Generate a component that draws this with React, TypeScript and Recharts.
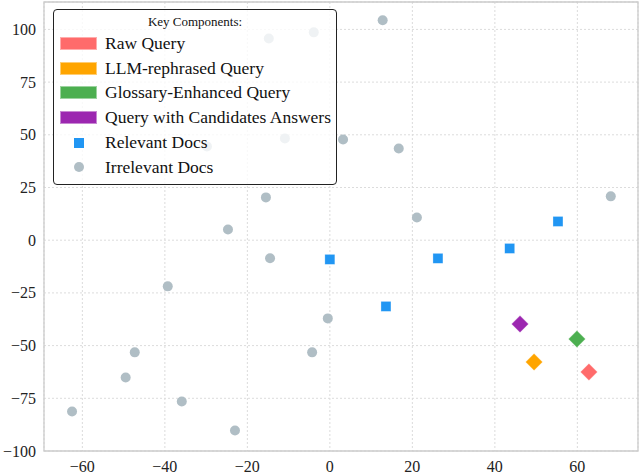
import React from "react"
import {
  ScatterChart, Scatter, XAxis, YAxis, CartesianGrid, ReferenceArea, Legend
} from "recharts"

// t-SNE style projection of queries and documents
const irrelevantX = [12.8, -14.8, -3.9, -10.9, 3.2, -29.8, -15.5, 16.7, 68.1, 21.1, -24.7, -14.5, -39.3, -0.5, -4.3, -47.3, -49.5, -35.9, -62.5, -23]
const irrelevantY = [104.3, 95.7, 98.6, 48.3, 47.8, 44.5, 20.3, 43.5, 20.8, 10.8, 5.1, -8.6, -21.9, -37.1, -53.2, -53.2, -65.1, -76.5, -81.3, -90.3]

const relevantX = [0, 26.2, 43.6, 55.3, 13.6]
const relevantY = [-9.1, -8.6, -3.9, 8.9, -31.4]

const queryNames = ["Raw Query", "LLM-rephrased Query", "Glossary-Enhanced Query", "Query with Candidates Answers"]
const queryX = [62.8, 49.5, 59.9, 46.1]
const queryY = [-62.5, -57.8, -46.9, -39.8]
const queryColors = ["#ff6b6b", "#ffa500", "#4caf50", "#9c27b0"]

const xTicks = [-60, -40, -20, 0, 20, 40, 60]
const yTicks = [-100, -75, -50, -25, 0, 25, 50, 75, 100]

const X_DOMAIN: [number, number] = [-69.3, 74.7]
const Y_DOMAIN: [number, number] = [-100, 113]

const FONT = '"Liberation Serif", "Times New Roman", serif'

const zip = (xs: number[], ys: number[]) => xs.map((x, i) => ({ x, y: ys[i] }))

const irrelevantData = zip(irrelevantX, irrelevantY)
const relevantData = zip(relevantX, relevantY)

const fmt = (v: number) => String(v).replace("-", "\u2212")

const XTick = (p: any) => (
  <text x={p.x} y={p.y} dy={21} textAnchor="middle" fontSize={16} fill="#222" fontFamily={FONT}>
    {fmt(p.payload.value)}
  </text>
)
const YTick = (p: any) => (
  <text x={p.x} y={p.y} dy={5.5} textAnchor="end" fontSize={16} fill="#222" fontFamily={FONT}>
    {fmt(p.payload.value)}
  </text>
)

const circleShape = (p: any) => <circle cx={p.cx} cy={p.cy} r={5} fill="#b0bec5" />
const squareShape = (p: any) => (
  <rect x={p.cx - 5} y={p.cy - 5} width={10} height={10} fill="#2196f3" stroke="#ffffff" strokeOpacity={0.5} strokeWidth={0.6} />
)
const diamondShape = (color: string) => (p: any) => {
  const r = 8.5
  const pts = `${p.cx},${p.cy - r} ${p.cx + r},${p.cy} ${p.cx},${p.cy + r} ${p.cx - r},${p.cy}`
  return <polygon points={pts} fill={color} stroke="#ffffff" strokeOpacity={0.5} strokeWidth={0.6} />
}

function KeyLegend() {
  const row: React.CSSProperties = { display: "flex", alignItems: "center", height: 24.8 }
  const label: React.CSSProperties = { fontSize: 17.5, color: "#111", whiteSpace: "nowrap" }
  return (
    <div style={{
      width: 284, height: 176, boxSizing: "border-box", border: "1.5px solid #222", borderRadius: 4,
      background: "rgba(255,255,255,0.8)", fontFamily: FONT, padding: "0 0 0 6px"
    }}>
      <div style={{ textAlign: "center", fontSize: 13, color: "#111", height: 21, lineHeight: "24px", marginLeft: -6 }}>
        Key Components:
      </div>
      {queryNames.map((name, i) => (
        <div key={name} style={row}>
          <div style={{ width: 37, height: 13, background: queryColors[i], boxSizing: "border-box", border: "1px solid rgba(255,255,255,0.45)", marginRight: 8 }} />
          <span style={label}>{name}</span>
        </div>
      ))}
      <div style={row}>
        <div style={{ width: 37, marginRight: 8, display: "flex", justifyContent: "center" }}>
          <div style={{ width: 10, height: 10, background: "#2196f3" }} />
        </div>
        <span style={label}>Relevant Docs</span>
      </div>
      <div style={row}>
        <div style={{ width: 37, marginRight: 8, display: "flex", justifyContent: "center" }}>
          <div style={{ width: 10, height: 10, borderRadius: 5, background: "#b0bec5" }} />
        </div>
        <span style={label}>Irrelevant Docs</span>
      </div>
    </div>
  )
}

export default function App() {
  return (
    <div style={{ position: "absolute", left: 0, top: 0, width: 640, height: 474, background: "#fff", fontFamily: FONT }}>
      <ScatterChart width={640} height={474} margin={{ top: 2, right: 2, bottom: 0, left: 0 }}>
        <CartesianGrid stroke="#dcdcdc" strokeDasharray="2 2" />
        <XAxis
          type="number" dataKey="x" domain={X_DOMAIN} ticks={xTicks} allowDataOverflow
          height={23} axisLine={false} tickLine={false} tickSize={0} tickMargin={0}
          tick={<XTick />}
        />
        <YAxis
          type="number" dataKey="y" domain={Y_DOMAIN} ticks={yTicks} allowDataOverflow
          width={44} axisLine={false} tickLine={false} tickSize={0} tickMargin={8}
          tick={<YTick />}
        />
        <ReferenceArea x1={X_DOMAIN[0]} x2={X_DOMAIN[1]} y1={Y_DOMAIN[0]} y2={Y_DOMAIN[1]} fill="none" stroke="#cccccc" strokeWidth={1.3} fillOpacity={0} />
        <Scatter name="Irrelevant Docs" data={irrelevantData} shape={circleShape} isAnimationActive={false} />
        <Scatter name="Relevant Docs" data={relevantData} shape={squareShape} isAnimationActive={false} />
        {queryNames.map((name, i) => (
          <Scatter key={name} name={name} data={[{ x: queryX[i], y: queryY[i] }]} shape={diamondShape(queryColors[i])} isAnimationActive={false} />
        ))}
        <Legend
          layout="vertical" align="center" verticalAlign="middle"
          wrapperStyle={{ left: 53, top: 9, width: 284, height: 176 }}
          content={() => <KeyLegend />}
        />
      </ScatterChart>
    </div>
  )
}
